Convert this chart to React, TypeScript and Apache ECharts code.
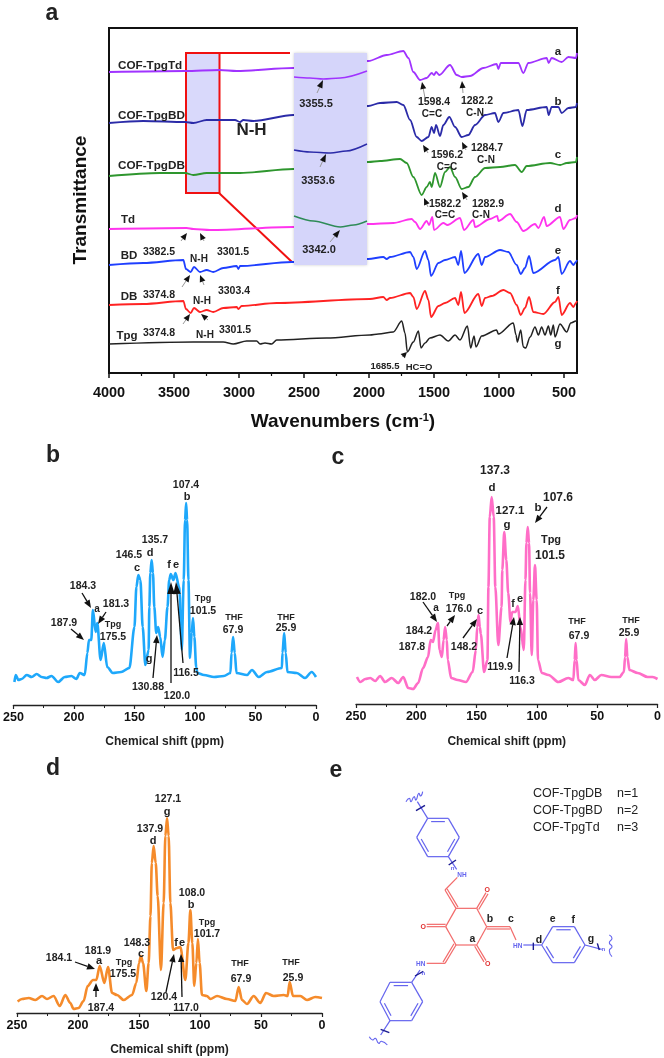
import React, { useEffect, useRef } from "react";
import * as echarts from "echarts";

type P = [number, number];

// ---- Panel a: FTIR traces [wavenumber, transmittance (a.u.)]
const irA: P[] = [[4000,301],[3415,302],[3151,303],[3018,302],[2582,305],[2005,312],[1864,318],[1736,322],[1697,315],[1659,301],[1607,293],[1556,295],[1518,300],[1500,298],[1484,301],[1459,298],[1377,308],[1325,298],[1287,296],[1223,297],[1120,305],[1018,309],[1005,304],[987,310],[851,310],[813,300],[774,310],[633,315],[618,310],[595,315],[518,311],[466,316],[408,315],[400,320]];
const irB: P[] = [[4000,250],[3736,252],[3415,251],[3351,250],[3249,253],[3031,253],[2992,251],[2967,253],[2890,252],[2582,258],[2005,267],[1915,270],[1787,271],[1736,268],[1684,253],[1633,236],[1595,232],[1543,236],[1518,246],[1500,240],[1484,248],[1454,237],[1428,248],[1382,256],[1338,246],[1287,236],[1236,238],[1184,248],[1107,258],[1031,260],[1005,251],[966,260],[851,263],[820,247],[787,263],[633,266],[618,258],[595,266],[543,266],[518,260],[466,265],[408,266],[400,270]];
const irC: P[] = [[4000,197],[3608,200],[3415,200],[3351,198],[3249,200],[2992,200],[2582,204],[2005,211],[1915,212],[1761,214],[1710,210],[1659,196],[1595,178],[1556,186],[1531,191],[1518,186],[1492,200],[1454,186],[1415,201],[1377,206],[1338,196],[1287,184],[1236,186],[1184,196],[1107,205],[992,206],[877,208],[825,201],[787,207],[607,210],[530,208],[479,210],[408,211],[400,216]];
const irD: P[] = [[4000,144],[3403,145],[3351,144],[3223,143],[2582,146],[2005,149],[1813,150],[1672,154],[1646,151],[1607,144],[1556,152],[1538,148],[1513,156],[1500,143],[1428,150],[1397,148],[1300,155],[1269,143],[1197,153],[1184,146],[1069,154],[1013,157],[1005,152],[915,159],[864,151],[813,142],[723,149],[697,145],[654,156],[633,147],[531,156],[505,144],[454,153],[408,155],[400,158]];
const irE: P[] = [[4000,108],[3736,110],[3428,113],[3408,104],[3372,101],[3346,106],[3300,101],[3249,103],[3198,101],[3121,105],[3018,107],[3005,104],[2992,107],[2595,111],[2005,114],[1890,116],[1864,114],[1838,116],[1684,121],[1659,116],[1633,104],[1569,122],[1543,113],[1523,97],[1466,110],[1415,113],[1338,116],[1313,108],[1292,122],[1266,100],[1159,119],[1133,108],[1107,116],[992,123],[928,121],[864,108],[833,99],[800,105],[769,117],[736,100],[569,113],[543,116],[518,99],[454,112],[428,108],[408,111],[400,113]];
const irF: P[] = [[4000,68],[3736,69],[3428,72],[3408,64],[3372,60],[3346,65],[3300,61],[3249,63],[3198,61],[3121,65],[3018,66],[3005,64],[2980,67],[2710,70],[1993,74],[1890,76],[1864,73],[1838,75],[1684,80],[1659,76],[1633,64],[1569,82],[1543,73],[1523,56],[1466,67],[1415,70],[1338,75],[1313,68],[1292,81],[1266,60],[1159,79],[1133,67],[1107,75],[1056,77],[966,83],[915,80],[864,68],[833,58],[800,65],[769,76],[736,61],[659,59],[569,71],[543,76],[518,58],[454,70],[428,66],[408,70],[400,72]];
const irG: P[] = [[4000,29],[3351,31],[3121,31],[3044,29],[2941,32],[2864,32],[2838,29],[2800,30],[2749,29],[2710,33],[2326,35],[1993,38],[1928,39],[1813,41],[1748,52],[1723,40],[1705,21],[1659,31],[1620,42],[1600,25],[1569,30],[1531,35],[1454,38],[1390,32],[1338,38],[1300,33],[1243,47],[1218,25],[1192,37],[1177,26],[1133,37],[1018,43],[1005,39],[890,50],[869,38],[859,31],[833,43],[813,26],[795,25],[761,36],[723,46],[697,38],[672,46],[646,38],[620,47],[602,38],[582,48],[569,36],[531,49],[479,41],[448,50],[408,52],[400,53]];

// inset of panel a
const insetA: P[] = [[3380,296],[3367,295],[3356,294],[3342,295],[3320,302]];
const insetB: P[] = [[3380,223],[3367,221],[3350,220],[3337,222],[3320,229]];
const insetC: P[] = [[3380,157],[3364,152],[3342,146],[3331,148],[3320,152]];

// ---- Panels b, c, d: NMR [ppm, intensity (a.u.)]
const nmrB: P[] = [[249.2,23],[248.1,30],[245.9,25],[243.2,26],[239,30],[234.9,28],[230.8,31],[226.7,28],[222.6,27],[218.5,29],[213,23],[207.6,28],[202.1,29],[198,26],[195.2,32],[191.1,30],[188.9,52],[187.6,65],[185.7,65],[184.3,95],[182.1,73],[180.7,82],[178,45],[175.3,62],[172.5,38],[167.9,32],[161,33],[154.2,37],[150,78],[148.4,118],[146.8,130],[145.1,125],[143.2,78],[141,40],[138.3,55],[137.7,98],[136.9,132],[135.8,145],[134.7,132],[133.6,98],[132,72],[130.4,78],[128.7,68],[126.8,48],[124.9,65],[122.7,98],[121.3,125],[120,131],[117.8,125],[116.1,132],[113.1,118],[112.6,112],[111.8,78],[110.9,55],[109.3,125],[108.2,185],[107.3,202],[106.5,185],[105.4,125],[104.1,47],[102.7,72],[101.6,87],[100.5,68],[99,38],[98,32],[92.6,30],[84.3,28],[76.1,29],[70.7,32],[69.8,52],[68.5,68],[67.1,52],[65.7,32],[57,30],[52.9,35],[47.4,28],[40.5,33],[28.2,37],[27.7,52],[26.3,72],[25,52],[23.6,33],[15.9,32],[9,27],[3.6,33],[0,28]];
const nmrC: P[] = [[249.2,27],[246.4,22],[242.3,25],[238.2,26],[234.1,23],[230,28],[225.9,22],[220.4,26],[215,21],[210.8,27],[206.7,16],[202.6,15],[198.5,21],[194.4,36],[190.3,47],[188.1,64],[186.2,62],[184,74],[182.1,81],[180.7,54],[178.8,47],[177.4,64],[176.1,77],[174.7,64],[173.9,44],[171.1,26],[165.7,24],[158.8,22],[153.3,32],[150.6,54],[149.5,77],[148.4,89],[147.3,77],[146.5,70],[143.8,32],[141,44],[140.2,117],[139.1,187],[137.5,207],[135.8,187],[134.5,117],[132,59],[129.3,97],[128.7,134],[127.1,172],[125.4,144],[123.8,111],[121.9,82],[120.5,92],[117.8,92],[115.8,98],[113.6,77],[110.9,54],[109.5,124],[108.7,161],[107.6,177],[106.5,161],[105.7,111],[104.3,49],[103,104],[101.6,139],[100.2,104],[99.1,44],[95.9,31],[90.4,29],[82.2,22],[74,26],[69.8,24],[68.7,44],[67.9,61],[67.1,44],[65.7,24],[60.3,19],[56.1,29],[52,24],[46.6,29],[38.3,27],[31.5,27],[27.9,32],[26.9,47],[26,65],[25,47],[23.3,34],[16.4,31],[8.2,27],[4.1,27],[0,25]];
const nmrD: P[] = [[249.5,11.6],[245.9,14],[240.4,15],[235,13],[229.5,17],[225.4,14],[220,17],[215,7],[210.4,18],[206.3,10],[203.6,4],[199.5,5],[195.4,12],[192.1,27],[187.7,33],[185,33],[182.2,47],[178.4,30],[175.4,46],[172.1,20],[168,18],[162.6,13],[155.7,18],[152.2,30],[150,50],[148.4,57],[146.7,50],[144,22],[142.1,50],[140.6,97],[139.5,150],[138,167],[136.3,150],[134.7,117],[132,43],[129.8,110],[128.4,177],[127,195],[125.7,177],[124.3,110],[122.1,63],[118.9,65],[116.1,66],[112,33],[109.5,70],[107.9,103],[106.3,70],[104.7,27],[103,50],[101.7,74],[100.3,50],[98.4,18],[94.3,17],[91.5,14],[86,17],[77.9,14],[71,12],[68.3,26],[65.6,13],[61.5,9],[56,17],[50.6,10],[45.9,20],[39.6,17],[31.4,18],[28.2,17],[26.5,31],[23.8,17],[17.8,17],[12.3,13],[5.5,16],[0,15]];

const irMajor = [500, 1000, 1500, 2000, 2500, 3000, 3500, 4000];
const irMinor = [750, 1250, 1750, 2250, 2750, 3250, 3750];

const FONT = '"Liberation Sans", Arial, sans-serif';
const INK = "#222";

// -------- graphic helpers ---------
const elements: any[] = [];
const txt = (text: string, x: number, y: number, size = 10.5, weight: any = "bold", fill = INK, align = "center") =>
  elements.push({
    type: "text", z: 100, x, y,
    style: { text, font: `${weight} ${size}px ${FONT}`, fill, align, textAlign: align, verticalAlign: "middle", textVerticalAlign: "middle" },
  });
const seg = (x1: number, y1: number, x2: number, y2: number, stroke: string, lineWidth = 1, z = 100) =>
  elements.push({ type: "line", z, shape: { x1, y1, x2, y2 }, style: { stroke, lineWidth } });
const arrow = (x1: number, y1: number, x2: number, y2: number, tail = "#111", lw = 1.3, hl = 8, hw = 3.2) => {
  const d = Math.hypot(x2 - x1, y2 - y1) || 1;
  const ux = (x2 - x1) / d, uy = (y2 - y1) / d;
  const bx = x2 - ux * hl, by = y2 - uy * hl;
  seg(x1, y1, bx, by, tail, lw);
  elements.push({
    type: "polygon", z: 100,
    shape: { points: [[x2, y2], [bx - uy * hw, by + ux * hw], [bx + uy * hw, by - ux * hw]] },
    style: { fill: "#111" },
  });
};

// panel letters and axis titles
txt("a", 52, 12, 23); txt("b", 53, 454, 23); txt("c", 338, 456, 23); txt("d", 53, 767, 23); txt("e", 336, 769, 23);
elements.push({
  type: "text", z: 100, x: 79, y: 200, rotation: Math.PI / 2,
  style: { text: "Transmittance", font: `bold 19px ${FONT}`, fill: "#111", align: "center", textAlign: "center", verticalAlign: "middle", textVerticalAlign: "middle" },
});

// zoom box & inset
elements.push({ type: "rect", z: 0, shape: { x: 186, y: 53, width: 33.5, height: 140 }, style: { fill: "#d9d9fb", stroke: "#f01010", lineWidth: 2 } });
seg(219, 53, 290, 53, "#f01010", 2, 1);
seg(219, 193, 292, 262, "#f01010", 2, 1);
elements.push({ type: "rect", z: 5, shape: { x: 294, y: 53, width: 73, height: 212 }, style: { fill: "#d5d5fa", shadowBlur: 3, shadowColor: "rgba(0,0,0,0.2)" } });

// panel a labels
[["COF-TpgTd", 64], ["COF-TpgBD", 114], ["COF-TpgDB", 164]].forEach(([t, y]) => txt(t as string, 118, y as number, 11.7, "bold", INK, "left"));
txt("N-H", 251.5, 129, 17);
txt("3355.5", 316, 103, 11); txt("3353.6", 318, 180, 11); txt("3342.0", 319, 249, 11);
txt("Td", 128, 219, 11.5); txt("BD", 129, 255, 11.5); txt("DB", 129, 296, 11.5); txt("Tpg", 127, 335, 11.5);
txt("3382.5", 159, 251, 10.5); txt("N-H", 199, 258, 10); txt("3301.5", 233, 251, 10.5);
txt("3374.8", 159, 294, 10.5); txt("N-H", 202, 300, 10); txt("3303.4", 234, 290, 10.5);
txt("3374.8", 159, 332, 10.5); txt("N-H", 205, 334, 10); txt("3301.5", 235, 329, 10.5);
txt("1598.4", 434, 101, 10.5); txt("C=C", 432, 113, 10); txt("1282.2", 477, 100, 10.5); txt("C-N", 475, 112, 10);
txt("1596.2", 447, 154, 10.5); txt("C=C", 447, 166, 10); txt("1284.7", 487, 147, 10.5); txt("C-N", 486, 159, 10);
txt("1582.2", 445, 203, 10.5); txt("C=C", 445, 214, 10); txt("1282.9", 488, 203, 10.5); txt("C-N", 481, 214, 10);
txt("1685.5", 385, 365, 9.5); txt("HC=O", 419, 366, 9.5);
[["a", 51], ["b", 101], ["c", 154], ["d", 208], ["e", 250], ["f", 290], ["g", 343]].forEach(([t, y]) => txt(t as string, 558, y as number, 11.5));
const GR = "#999";
arrow(317, 93, 323, 80, GR, 1, 8, 3); arrow(320, 167, 326, 154, GR, 1, 8, 3); arrow(330, 242, 340, 230, GR, 1, 8, 3);
arrow(181, 241, 187, 233, GR, 1, 7, 3); arrow(204, 241, 200, 233, GR, 1, 7, 3);
arrow(182, 287, 190, 275, GR, 1, 7, 3); arrow(204, 285, 200, 275, GR, 1, 7, 3);
arrow(183, 324, 190, 314, GR, 1, 7, 3); arrow(208, 320, 201, 314, GR, 1, 7, 3);
arrow(425, 98, 422, 82, GR, 1, 7, 3); arrow(463, 93, 462, 81, GR, 1, 7, 3);
arrow(428, 153, 423, 145, GR, 1, 7, 3); arrow(466, 150, 462, 142, GR, 1, 7, 3);
arrow(428, 207, 424, 198, GR, 1, 7, 3); arrow(467, 200, 462, 192, GR, 1, 7, 3);
arrow(402, 357, 407, 352, GR, 1, 6, 3);

// panel b labels
txt("107.4", 186, 484); txt("b", 187, 496, 11); txt("135.7", 155, 539); txt("d", 150, 552, 11); txt("146.5", 129, 554); txt("c", 137, 567, 11);
txt("f", 169, 564, 11); txt("e", 176, 564, 11); txt("184.3", 83, 585); txt("a", 97, 608, 10); txt("181.3", 116, 603);
txt("Tpg", 113, 624, 9); txt("175.5", 113, 636); txt("187.9", 64, 622); txt("Tpg", 203, 598, 9); txt("101.5", 203, 610);
txt("THF", 234, 617, 9); txt("67.9", 233, 629); txt("THF", 286, 617, 9); txt("25.9", 286, 627);
txt("g", 149, 658, 11); txt("116.5", 186, 672); txt("130.88", 148, 686); txt("120.0", 177, 695);
arrow(82, 593, 91, 608); arrow(71, 629, 84, 640); arrow(106, 612, 98, 624); arrow(153, 678, 157, 635); arrow(171, 683, 171, 582, "#111", 1.3, 12, 3.8); arrow(183, 663, 176, 582, "#111", 1.3, 12, 3.8);

// panel c labels
txt("137.3", 495, 470, 12); txt("d", 492, 487, 11.5); txt("127.1", 510, 510, 11.5); txt("g", 507, 524, 11.5); txt("b", 538, 507, 11.5); txt("107.6", 558, 497, 12);
txt("Tpg", 551, 539, 11); txt("101.5", 550, 555, 12); txt("182.0", 423, 596); txt("a", 436, 607, 10); txt("Tpg", 457, 595, 9); txt("176.0", 459, 608);
txt("c", 480, 610, 11); txt("184.2", 419, 630); txt("187.8", 412, 646); txt("148.2", 464, 646); txt("f", 513, 603, 10.5); txt("e", 520, 598, 11);
txt("119.9", 500, 666); txt("116.3", 522, 680); txt("THF", 577, 621, 9); txt("67.9", 579, 635); txt("THF", 631, 620, 9); txt("25.9", 629, 632);
arrow(423, 602, 437, 622); arrow(447, 626, 455, 615); arrow(463, 638, 477, 619); arrow(507, 658, 514, 617); arrow(519, 672, 520, 617); arrow(547, 507, 535, 523);

// panel d labels
txt("127.1", 168, 798); txt("g", 167, 811, 11); txt("137.9", 150, 828); txt("d", 153, 840, 11); txt("108.0", 192, 892); txt("b", 191, 904, 11);
txt("Tpg", 207, 922, 9); txt("101.7", 207, 933); txt("148.3", 137, 942); txt("c", 141, 953, 11); txt("f", 176, 942, 11); txt("e", 182, 942, 11);
txt("181.9", 98, 950); txt("a", 99, 960, 11); txt("184.1", 59, 957); txt("Tpg", 124, 962, 9); txt("175.5", 123, 973);
txt("THF", 240, 963, 9); txt("67.9", 241, 978); txt("THF", 291, 962, 9); txt("25.9", 293, 977); txt("120.4", 164, 996); txt("117.0", 186, 1007); txt("187.4", 101, 1007);
arrow(75, 962, 95, 969); arrow(96, 997, 96, 983); arrow(166, 992, 174, 954); arrow(182, 997, 181, 954);

// panel e: structure, from picture coordinates of the panel
const X = (z: number) => 330 + z / 3, Y = (z: number) => 750 + z / 3;
const RED = "#f26a6a", BLUE = "#6464ee", DK = "#1a1a90";
const bond = (a: P, b: P, c: string, lw = 1.2) => seg(X(a[0]), Y(a[1]), X(b[0]), Y(b[1]), c, lw);
const dbl = (a: P, b: P, c: string) => {
  bond(a, b, c);
  const d = Math.hypot(b[0] - a[0], b[1] - a[1]);
  const nx = (-(b[1] - a[1]) / d) * 7, ny = ((b[0] - a[0]) / d) * 7;
  bond([a[0] + nx, a[1] + ny], [b[0] + nx, b[1] + ny], c);
};
const ring = (v: P[], c: string, doubles: number[]) => {
  const cx = v.reduce((s, p) => s + p[0], 0) / v.length, cy = v.reduce((s, p) => s + p[1], 0) / v.length;
  v.forEach((p, i) => {
    const q = v[(i + 1) % v.length];
    bond(p, q, c);
    if (doubles.includes(i)) {
      const sh = (r: P): P => [cx + (r[0] - cx) * 0.83, cy + (r[1] - cy) * 0.83];
      const a = sh(p), b = sh(q);
      bond([a[0] + (b[0] - a[0]) * 0.1, a[1] + (b[1] - a[1]) * 0.1], [b[0] - (b[0] - a[0]) * 0.1, b[1] - (b[1] - a[1]) * 0.1], c);
    }
  });
};
const wave = (pts: P[], c: string) =>
  elements.push({ type: "polyline", z: 100, shape: { points: pts.map((p) => [X(p[0]), Y(p[1])]), smooth: 0.6 }, style: { stroke: c, lineWidth: 1.1, fill: "none" } });

ring([[378,475],[440,475],[470,530],[440,585],[378,585],[347,530]], RED, []);
dbl([378,475],[345,420],RED); bond([345,420],[382,382],RED);
dbl([440,475],[468,428],RED);
dbl([470,530],[540,530],RED); bond([540,530],[558,570],RED);
dbl([440,585],[468,632],RED);
dbl([378,585],[345,640],RED); bond([345,640],[290,640],RED);
dbl([347,530],[290,530],RED);
txt("O", X(472), Y(418), 7, "bold", "#e03030"); txt("O", X(280), Y(530), 7, "bold", "#e03030"); txt("O", X(473), Y(640), 7, "bold", "#e03030");
ring([[293,205],[355,205],[388,262],[355,320],[293,320],[260,262]], BLUE, [0, 2, 4]);
ring([[668,530],[733,530],[765,585],[733,638],[668,638],[635,585]], BLUE, [0, 2, 4]);
ring([[180,697],[245,697],[278,755],[245,812],[180,812],[150,755]], BLUE, [0, 2, 4]);
bond([293,205],[262,155],BLUE); bond([355,320],[380,358],BLUE);
bond([580,585],[635,585],BLUE); bond([765,585],[815,598],BLUE);
bond([245,697],[270,660],BLUE); bond([180,812],[152,855],BLUE);
wave([[228,155],[238,145],[243,155],[252,140],[258,150],[266,130],[272,138],[278,125]], BLUE);
wave([[838,555],[846,565],[838,578],[846,590],[838,602],[846,620]], BLUE);
wave([[118,860],[128,870],[136,865],[146,880],[154,874],[172,885]], BLUE);
bond([258,182],[285,166],DK,1.4); bond([356,345],[378,330],DK,1.4); bond([610,578],[610,600],DK,1.4); bond([802,580],[808,600],DK,1.4); bond([255,678],[280,664],DK,1.4); bond([152,838],[178,848],DK,1.4);
txt("NH", X(396), Y(373), 6.5, "bold", BLUE); txt("HN", X(563), Y(585), 6.5, "bold", BLUE); txt("HN", X(272), Y(640), 6.5, "bold", BLUE);
txt("n", X(368), Y(353), 6, "bold", BLUE); txt("n", X(820), Y(596), 6, "bold", BLUE); txt("n", X(280), Y(668), 6, "bold", BLUE);
txt("a", X(427), Y(563), 10.5); txt("b", X(480), Y(505), 10.5); txt("c", X(543), Y(505), 10.5); txt("d", X(627), Y(568), 10.5);
txt("e", X(668), Y(505), 10.5); txt("f", X(730), Y(508), 10.5); txt("g", X(783), Y(565), 10.5);
[["COF-TpgDB", "n=1", 793], ["COF-TpgBD", "n=2", 810], ["COF-TpgTd", "n=3", 827]].forEach(([a, b, y]) => {
  txt(a as string, 533, y as number, 12.5, "normal", INK, "left");
  txt(b as string, 617, y as number, 12.5, "normal", INK, "left");
});

// -------- chart option ---------
const line = (data: P[], color: string, idx: number, width: number, z = 3) => ({
  type: "line", data, xAxisIndex: idx, yAxisIndex: idx, symbol: "none", smooth: 0.3, smoothMonotone: "x" as const, z,
  lineStyle: { color, width }, silent: true,
});

const nmrX = (gridIndex: number, nameGap: number) => ({
  type: "value", gridIndex, inverse: true, min: 0, max: 250, interval: 50,
  name: "Chemical shift (ppm)", nameLocation: "middle", nameGap,
  nameTextStyle: { fontFamily: FONT, fontWeight: "bold", fontSize: 12, color: INK },
  axisLine: { onZero: false, lineStyle: { color: "#222", width: 1.3 } },
  axisTick: { show: true, length: 4, lineStyle: { color: "#222", width: 1.2 } },
  minorTick: { show: true, splitNumber: 2, length: 3, lineStyle: { color: "#222", width: 1 } },
  axisLabel: { fontFamily: FONT, fontWeight: "bold", fontSize: 12.5, color: "#111", margin: 5, showMinLabel: true, showMaxLabel: true },
  splitLine: { show: false },
});
const hiddenY = (gridIndex: number, min: number, max: number) => ({ type: "value", gridIndex, min, max, show: false });

const option: any = {
  animation: false,
  backgroundColor: "#fff",
  grid: [
    { left: 109, top: 28, width: 468, height: 345, show: true, borderColor: "#111", borderWidth: 2, backgroundColor: "transparent", z: 1 },
    { left: 294, top: 53, width: 73, height: 212, z: 6 },
    { left: 12, top: 475, width: 304, height: 230 },
    { left: 356, top: 474, width: 304, height: 230 },
    { left: 17, top: 783, width: 305, height: 230 },
  ],
  xAxis: [
    {
      type: "value", gridIndex: 0, inverse: true, min: 400, max: 4000,
      name: "Wavenumbers (cm{sup|-1})", nameLocation: "middle", nameGap: 38,
      nameTextStyle: { fontFamily: FONT, fontWeight: "bold", fontSize: 19, color: "#111", rich: { sup: { fontFamily: FONT, fontWeight: "bold", fontSize: 11, verticalAlign: "top", color: "#111" } } },
      axisLine: { show: true, lineStyle: { color: "#111", width: 2 } },
      axisTick: { show: true, length: 5, customValues: irMajor, lineStyle: { color: "#111", width: 1.5 } },
      axisLabel: { fontFamily: FONT, fontWeight: "bold", fontSize: 14.5, color: "#111", margin: 11, customValues: irMajor, formatter: (v: number) => String(v) },
      splitLine: { show: false },
    },
    { type: "value", gridIndex: 1, inverse: true, min: 3320, max: 3380, show: false },
    nmrX(2, 30), nmrX(3, 31), nmrX(4, 30),
    {
      type: "value", gridIndex: 0, inverse: true, min: 400, max: 4000, position: "bottom",
      axisLine: { show: false }, axisLabel: { show: false }, splitLine: { show: false },
      axisTick: { show: true, length: 3, customValues: irMinor, lineStyle: { color: "#111", width: 1.2 } },
    },
  ],
  yAxis: [hiddenY(0, 0, 345), hiddenY(1, 108, 320), hiddenY(2, 0, 230), hiddenY(3, 0, 230), hiddenY(4, 0, 230)],
  series: [
    line(irA, "#a033ff", 0, 1.8),
    line(irB, "#2b2ba8", 0, 1.8),
    line(irC, "#2e962e", 0, 1.8),
    line(irD, "#ff33ee", 0, 1.8),
    line(irE, "#1f3fff", 0, 1.8),
    line(irF, "#ff2222", 0, 1.8),
    line(irG, "#222222", 0, 1.5),
    line(insetA, "#a033ff", 1, 1.4, 7),
    line(insetB, "#2b2ba8", 1, 1.4, 7),
    line(insetC, "#2e8b57", 1, 1.4, 7),
    line(nmrB, "#1ea8fb", 2, 2.6),
    line(nmrC, "#ff6ec7", 3, 2.6),
    line(nmrD, "#f58b2b", 4, 2.6),
  ],
  graphic: { elements },
};

export default function App() {
  const ref = useRef<HTMLDivElement>(null);
  useEffect(() => {
    document.body.style.margin = "0";
    const chart = echarts.init(ref.current!, undefined, { renderer: "svg" });
    chart.setOption(option);
    return () => chart.dispose();
  }, []);
  return <div ref={ref} style={{ width: 664, height: 1058, filter: "blur(0.45px)" }} />;
}
